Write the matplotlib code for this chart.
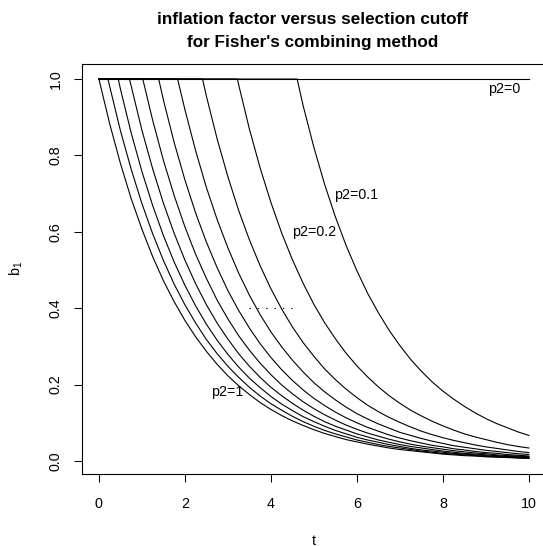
import matplotlib
matplotlib.use("Agg")
import matplotlib.pyplot as plt

plt.rcParams["font.family"] = ["Liberation Sans", "DejaVu Sans"]
plt.rcParams["mathtext.fontset"] = "custom"
plt.rcParams["mathtext.rm"] = "Liberation Sans"

# --- data ------------------------------------------------------------------
# t grid (each curve's values line up with the tail of this grid)
T_GRID = [0.25, 0.5, 0.75, 1.0, 1.25, 1.5, 1.75, 2.0, 2.25, 2.5,
          2.75, 3.0, 3.25, 3.5, 3.75, 4.0, 4.25, 4.5, 4.75, 5.0,
          5.25, 5.5, 5.75, 6.0, 6.25, 6.5, 6.75, 7.0, 7.25, 7.5,
          7.75, 8.0, 8.25, 8.5, 8.75, 9.0, 9.25, 9.5, 9.75, 10.0]

P2_VALUES = [1.0, 0.9, 0.8, 0.7, 0.6, 0.5, 0.4, 0.3, 0.2, 0.1]
# t where each curve leaves b1 = 1
CUTOFFS = [0.0, 0.21, 0.45, 0.71, 1.02, 1.39, 1.83, 2.41, 3.22, 4.61]

b1_p10 = [0.883, 0.779, 0.687, 0.607, 0.535, 0.472, 0.417, 0.368, 0.325, 0.287,
          0.253, 0.223, 0.197, 0.174, 0.153, 0.135, 0.119, 0.105, 0.093, 0.082,
          0.072, 0.064, 0.056, 0.050, 0.044, 0.039, 0.034, 0.030, 0.027, 0.024,
          0.021, 0.018, 0.016, 0.014, 0.013, 0.011, 0.010, 0.009, 0.008, 0.007]
b1_p09 = [0.981, 0.865, 0.764, 0.674, 0.595, 0.525, 0.463, 0.409, 0.361, 0.318,
          0.281, 0.248, 0.219, 0.193, 0.170, 0.150, 0.133, 0.117, 0.103, 0.091,
          0.080, 0.071, 0.063, 0.055, 0.049, 0.043, 0.038, 0.034, 0.030, 0.026,
          0.023, 0.020, 0.018, 0.016, 0.014, 0.012, 0.011, 0.010, 0.008, 0.007]
b1_p08 = [0.974, 0.859, 0.758, 0.669, 0.590, 0.521, 0.460, 0.406, 0.358,
          0.316, 0.279, 0.246, 0.217, 0.192, 0.169, 0.149, 0.132, 0.116, 0.103,
          0.091, 0.080, 0.071, 0.062, 0.055, 0.049, 0.043, 0.038, 0.033, 0.029,
          0.026, 0.023, 0.020, 0.018, 0.016, 0.014, 0.012, 0.011, 0.010, 0.008]
b1_p07 = [0.982, 0.866, 0.765, 0.675, 0.596, 0.526, 0.464, 0.409, 0.361,
          0.319, 0.281, 0.248, 0.219, 0.193, 0.171, 0.151, 0.133, 0.117, 0.103,
          0.091, 0.081, 0.071, 0.063, 0.055, 0.049, 0.043, 0.038, 0.034, 0.030,
          0.026, 0.023, 0.020, 0.018, 0.016, 0.014, 0.012, 0.011, 0.010]
b1_p06 = [0.892, 0.787, 0.695, 0.613, 0.541, 0.478, 0.421, 0.372, 0.328,
          0.290, 0.256, 0.226, 0.199, 0.176, 0.155, 0.137, 0.121, 0.107, 0.094,
          0.083, 0.073, 0.065, 0.057, 0.050, 0.044, 0.039, 0.035, 0.031, 0.027,
          0.024, 0.021, 0.019, 0.016, 0.014, 0.013, 0.011]
b1_p05 = [0.945, 0.834, 0.736, 0.649, 0.573, 0.506, 0.446, 0.394, 0.348,
          0.307, 0.271, 0.239, 0.211, 0.186, 0.164, 0.145, 0.128, 0.113, 0.100,
          0.088, 0.078, 0.068, 0.060, 0.053, 0.047, 0.041, 0.037, 0.032, 0.029,
          0.025, 0.022, 0.020, 0.017, 0.015, 0.013]
b1_p04 = [0.920, 0.812, 0.716, 0.632, 0.558, 0.492, 0.434, 0.383, 0.338,
          0.299, 0.264, 0.233, 0.205, 0.181, 0.160, 0.141, 0.124, 0.110, 0.097,
          0.086, 0.075, 0.067, 0.059, 0.052, 0.046, 0.040, 0.036, 0.032, 0.028,
          0.025, 0.022, 0.019, 0.017]
b1_p03 = [0.955, 0.843, 0.744, 0.656, 0.579, 0.511, 0.451, 0.398, 0.351,
          0.310, 0.274, 0.241, 0.213, 0.188, 0.166, 0.146, 0.129, 0.114, 0.101,
          0.089, 0.078, 0.069, 0.061, 0.054, 0.048, 0.042, 0.037, 0.033, 0.029,
          0.025, 0.022]
b1_p02 = [0.985, 0.869, 0.767, 0.677, 0.597, 0.527, 0.465, 0.410, 0.362,
          0.320, 0.282, 0.249, 0.220, 0.194, 0.171, 0.151, 0.133, 0.118, 0.104,
          0.092, 0.081, 0.071, 0.063, 0.056, 0.049, 0.043, 0.038, 0.034]
b1_p01 = [0.930, 0.821, 0.724, 0.639, 0.564, 0.498, 0.439, 0.388, 0.342,
          0.302, 0.266, 0.235, 0.207, 0.183, 0.162, 0.143, 0.126, 0.111, 0.098,
          0.087, 0.076, 0.067]

CURVES = [b1_p10, b1_p09, b1_p08, b1_p07, b1_p06,
          b1_p05, b1_p04, b1_p03, b1_p02, b1_p01]

# p2 = 0 line
T_FLAT = [0.0, 10.0]
B_FLAT = [1.0, 1.0]

LABELS = ["p2=0", "p2=0.1", "p2=0.2", "p2=1"]
LABEL_X = [9.42, 5.98, 5.0, 2.98]
LABEL_Y = [0.974, 0.696, 0.600, 0.181]

# dotted reference segment
DOT_T = [3.5, 4.5]
DOT_B = [0.4, 0.4]

# --- figure -------------------------------------------------------------------
fig = plt.figure(figsize=(5.43, 5.46), dpi=100)
ax = fig.add_axes([0.1505, 0.1319, 0.8552, 0.7513])

ax.plot(T_FLAT, B_FLAT, color="black", lw=0.8)
for cut, vals in zip(CUTOFFS, CURVES):
    ts = [0.0, cut] + T_GRID[-len(vals):]
    bs = [1.0, 1.0] + vals
    ax.plot(ts, bs, color="black", lw=0.8)

ax.plot(DOT_T, DOT_B, color="black", lw=0.75, linestyle=(0, (1.33, 6.67)))

for lab, x, y in zip(LABELS, LABEL_X, LABEL_Y):
    ax.text(x, y, lab, ha="center", va="center", fontsize=10.3)

ax.set_xlim(-0.4, 10.4)
ax.set_ylim(-0.034, 1.04)
ax.set_xticks([0, 2, 4, 6, 8, 10])
ax.set_yticks([0.0, 0.2, 0.4, 0.6, 0.8, 1.0])
ax.set_yticklabels(["0.0", "0.2", "0.4", "0.6", "0.8", "1.0"])
ax.tick_params(length=5.8, width=0.75, labelsize=10.3)
ax.tick_params(axis="x", pad=11)
ax.tick_params(axis="y", pad=8)
for lab in ax.get_yticklabels():
    lab.set_rotation(90)
    lab.set_va("center")
for sp in ax.spines.values():
    sp.set_linewidth(0.8)

ax.set_xlabel("t", fontsize=10.3, labelpad=16)
ax.set_ylabel(r"$\mathregular{b_1}$", fontsize=10.3, labelpad=17)

fig.text(0.575, 1 - 20 / 546, "inflation factor versus selection cutoff",
         ha="center", va="center", fontsize=12.3, fontweight="bold")
fig.text(0.575, 1 - 42 / 546, "for Fisher's combining method",
         ha="center", va="center", fontsize=12.3, fontweight="bold")

fig.savefig("out.png", dpi=100)
